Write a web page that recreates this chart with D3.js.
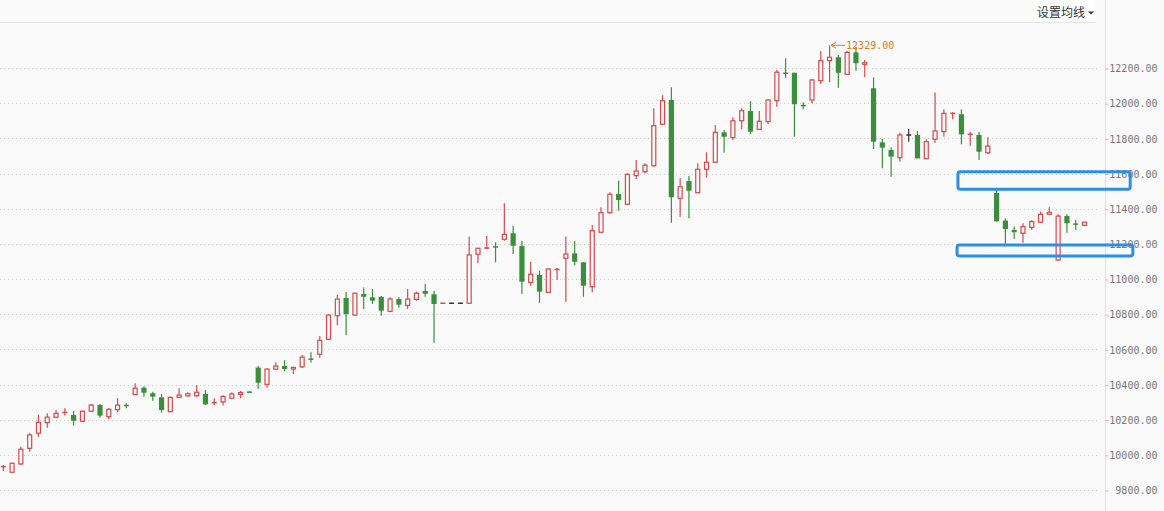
<!DOCTYPE html>
<html>
<head>
<meta charset="utf-8">
<script src="https://cdn.jsdelivr.net/npm/d3@7"></script>
<style>
  body { margin: 0; background: #fafafa; }
  svg { display: block; }
</style>
</head>
<body>
<div id="chart"></div>
<script>
// daily OHLC
const opens  = [9931,9901,9948,10037,10123,10183,10214,10237,10227,10191,10248,10283,10217,10257,10283,10343,10382,10350,10327,10245,
  10327,10335,10336,10346,10293,10301,10322,10343,10358,10496,10401,10487,10505,10488,10500,10548,10572,10657,10791,10892,
  10795,10915,10896,10898,10816,10886,10850,10884,10932,10913,10862,10862,10862,10862,11141,11172,11183,11226,11260,11188,
  10981,11023,10924,11051,11118,11146,11095,10956,11266,11377,11483,11425,11588,11610,11644,11880,12018,11459,11557,11491,
  11624,11664,11834,11804,11900,11955,11851,11895,12014,12172,12173,11988,12018,12128,12242,12261,12164,12289,12221,12085,
  11777,11734,11690,11819,11819,11684,11795,11838,11940,11937,11820,11819,11718,11489,11332,11279,11260,11294,11323,11368,
  11108,11358,11314,11305];
const highs  = [9942,9955,10046,10126,10227,10236,10255,10265,10249,10252,10289,10289,10265,10322,10293,10407,10388,10359,10346,10331,
  10378,10356,10397,10369,10322,10340,10356,10363,10360,10505,10492,10526,10539,10501,10568,10583,10676,10801,10909,10926,
  10922,10951,10943,10903,10896,10896,10943,10928,10972,10932,10862,10862,10862,11241,11175,11245,11209,11431,11303,11216,
  11098,11047,11060,11063,11241,11216,11095,11307,11408,11493,11559,11601,11677,11658,11971,12046,12090,11573,11586,11658,
  11721,11876,11847,11920,11971,12012,11955,12022,12189,12255,12173,12005,12137,12297,12329,12274,12297,12321,12245,12147,
  11796,11749,11832,11853,11842,11795,12060,11965,11948,11965,11838,11838,11806,11504,11345,11298,11317,11336,11383,11408,
  11368,11368,11336,11323];
const lows   = [9908,9899,9942,10018,10103,10154,10212,10223,10166,10187,10244,10211,10204,10242,10265,10341,10331,10308,10240,10243,
  10327,10331,10331,10283,10280,10280,10318,10322,10352,10376,10382,10482,10473,10460,10494,10525,10552,10653,10738,10682,
  10791,10829,10858,10791,10811,10837,10829,10877,10899,10638,10862,10862,10862,10862,11089,11172,11095,11218,11142,10915,
  10962,10865,10920,10994,10871,11080,10899,10924,11260,11371,11388,11420,11569,11601,11639,11876,11320,11354,11345,11491,
  11576,11664,11718,11791,11853,11825,11851,11882,11980,12145,11809,11965,11999,12109,12119,12088,12160,12185,12147,11739,
  11630,11582,11667,11781,11686,11684,11775,11809,11908,11766,11758,11677,11711,11326,11193,11228,11206,11280,11318,11368,
  11104,11263,11279,11305];
const closes = [9935,9952,10032,10113,10185,10214,10236,10245,10194,10248,10283,10223,10259,10283,10278,10379,10353,10331,10255,10327,
  10340,10348,10356,10287,10300,10331,10346,10354,10355,10410,10488,10505,10488,10497,10556,10540,10651,10795,10886,10801,
  10919,10899,10877,10820,10886,10854,10886,10919,10916,10858,10862,10862,10862,11137,11175,11180,11181,11254,11189,10985,
  11027,10928,11057,11058,11142,11098,10962,11275,11377,11482,11449,11595,11614,11647,11872,12014,11465,11525,11502,11624,
  11664,11834,11809,11900,11957,11838,11897,12018,12176,12168,11994,11984,12132,12242,12261,12173,12289,12227,12230,11781,
  11747,11696,11819,11819,11686,11781,11842,11942,11944,11823,11826,11724,11756,11328,11284,11266,11298,11326,11368,11379,
  11358,11317,11310,11323];

const priceTicks = [9800,10000,10200,10400,10600,10800,11000,11200,11400,11600,11800,12000,12200];

// the two hand-drawn boxes: candle index span and price span
const boxStart  = [108.6, 108.5];
const boxEnd    = [128.2, 128.5];
const boxTop    = [11610, 11193];
const boxBottom = [11510, 11131];

const width = 1164, height = 511,
  red = "#d6494a", green = "#3b8e3b", flat = "#333", bg = "#fafafa";

const x = d3.scaleLinear().domain([0, opens.length - 1]).range([3.3, 1084.5]);
const y = d3.scaleLinear().domain([9800, 12200]).range([490, 68]);

const svg = d3.select("#chart").append("svg")
  .attr("width", width)
  .attr("height", height);

svg.append("rect").attr("width", width).attr("height", height).attr("fill", bg);

// dotted grid
svg.append("g").selectAll("line")
  .data(priceTicks).enter().append("line")
  .attr("x1", 0).attr("x2", 1100)
  .attr("y1", d => Math.round(y(d)) + 0.5).attr("y2", d => Math.round(y(d)) + 0.5)
  .attr("stroke", "#c8c8c8")
  .attr("stroke-dasharray", "1,3");

// top line under the toolbar
svg.append("line")
  .attr("x1", 0).attr("x2", 1095).attr("y1", 22.5).attr("y2", 22.5)
  .attr("stroke", "#e4e4e4");

// price axis on the right
svg.append("line")
  .attr("x1", 1105.5).attr("x2", 1105.5).attr("y1", 0).attr("y2", height)
  .attr("stroke", "#e2e2e2");

const axis = svg.append("g")
  .attr("transform", "translate(1105.5,0.5)")
  .call(d3.axisRight(y).tickValues(priceTicks).tickSize(3).tickFormat(d => d.toFixed(2)));
axis.select(".domain").remove();
axis.selectAll(".tick line").attr("stroke", "#bbb");
axis.selectAll(".tick text")
  .attr("x", 52)
  .attr("text-anchor", "end")
  .attr("fill", "#777")
  .style("font-family", "'DejaVu Sans Mono', 'Liberation Mono', monospace")
  .style("font-size", "10px");

// candles
const data = opens.map((o, i) => ({ i: i, o: o, h: highs[i], l: lows[i], c: closes[i] }));
function colorOf(d) {
  if (d.c > d.o) return red;
  if (d.c < d.o) return green;
  const prev = d.i > 0 ? closes[d.i - 1] : d.c;
  return d.c > prev ? red : d.c < prev ? green : flat;
}

const candles = svg.append("g").selectAll("g")
  .data(data).enter().append("g");

candles.append("line")
  .attr("x1", d => x(d.i)).attr("x2", d => x(d.i))
  .attr("y1", d => y(d.h)).attr("y2", d => y(d.l))
  .attr("stroke", colorOf)
  .attr("stroke-width", 1.2);

candles.each(function(d) {
  const g = d3.select(this), col = colorOf(d);
  const yt = y(Math.max(d.o, d.c)), yb = y(Math.min(d.o, d.c));
  if (yb - yt < 1.5) {
    g.append("line")
      .attr("x1", x(d.i) - 2.5).attr("x2", x(d.i) + 2.5)
      .attr("y1", (yt + yb) / 2).attr("y2", (yt + yb) / 2)
      .attr("stroke", col).attr("stroke-width", 1.5);
  } else if (d.c > d.o) {
    g.append("rect")
      .attr("x", x(d.i) - 2).attr("width", 4)
      .attr("y", yt).attr("height", yb - yt)
      .attr("fill", bg).attr("stroke", col).attr("stroke-width", 1.2);
  } else {
    g.append("rect")
      .attr("x", x(d.i) - 2.6).attr("width", 5.2)
      .attr("y", yt).attr("height", yb - yt)
      .attr("fill", col);
  }
});

// highest price marker
const peak = data.reduce((a, b) => b.h > a.h ? b : a);
const mx = x(peak.i) + 1.5, my = y(peak.h);
const mark = svg.append("g").attr("stroke", "#dc7a2a").attr("fill", "none");
mark.append("line").attr("x1", mx).attr("x2", mx + 14).attr("y1", my).attr("y2", my);
mark.append("path").attr("d", `M${mx + 5},${my - 3}L${mx},${my}L${mx + 5},${my + 3}`);
svg.append("text")
  .attr("x", mx + 15).attr("y", my + 4)
  .attr("fill", "#dc7a2a")
  .style("font-family", "'DejaVu Sans Mono', 'Liberation Mono', monospace")
  .style("font-size", "10px")
  .text(peak.h.toFixed(2));

// blue boxes
svg.append("g").selectAll("rect")
  .data(boxStart).enter().append("rect")
  .attr("x", (d, k) => x(boxStart[k]))
  .attr("width", (d, k) => x(boxEnd[k]) - x(boxStart[k]))
  .attr("y", (d, k) => y(boxTop[k]))
  .attr("height", (d, k) => y(boxBottom[k]) - y(boxTop[k]))
  .attr("rx", 2.5)
  .attr("fill", "none")
  .attr("stroke", "#2b8fe6")
  .attr("stroke-width", 3);

// toolbar button
svg.append("rect").attr("x", 1033).attr("y", 0).attr("width", 62).attr("height", 21).attr("fill", "#fff");
svg.append("text")
  .attr("x", 1037).attr("y", 17)
  .attr("fill", "#333")
  .style("font-family", "'Noto Sans CJK SC', sans-serif")
  .style("font-size", "12px")
  .text("设置均线");
svg.append("path").attr("d", "M1088,11.5L1094,11.5L1091,14.5Z").attr("fill", "#333");
</script>
</body>
</html>
